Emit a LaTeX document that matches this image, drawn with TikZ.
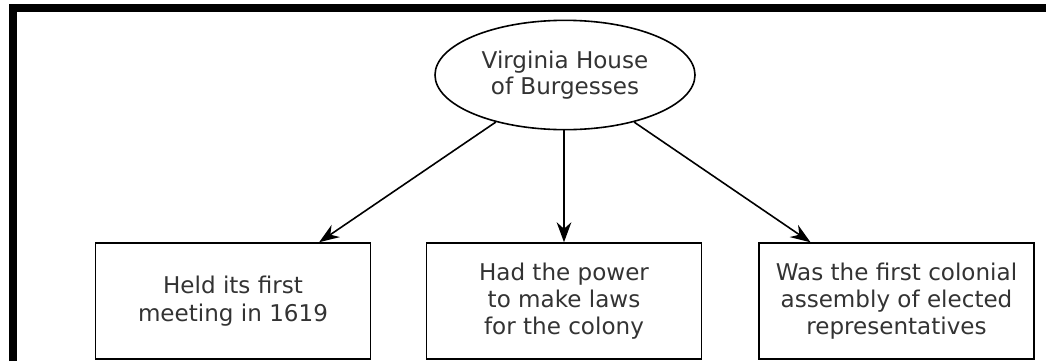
\documentclass[tikz,border=0pt]{standalone}
\usepackage{fontspec}
\setmainfont{DejaVu Sans}
\usetikzlibrary{positioning,shapes.geometric,arrows.meta}

\begin{document}
\begin{tikzpicture}[x=0.75pt, y=-0.75pt,
        topic/.style={ellipse, draw, line width=1.2pt, minimum width=195pt, minimum height=82pt, inner sep=0pt, align=center, text=black!80, font=\fontsize{17.3}{19.5}\selectfont},
        fact/.style={rectangle, draw, line width=1.1pt, minimum width=206pt, minimum height=87pt, align=center, text=black!80, font=\fontsize{17.3}{20.5}\selectfont},
        arrow/.style={-{Stealth[length=15pt, width=11pt]}, line width=1.2pt}
    ]
        \useasboundingbox (0,0) rectangle (1046,361);
        % frame on left and top
        \draw[line width=6pt] (13,361) -- (13,8) -- (1046,8);

        \node[topic] (burg) at (565,75) {Virginia House\\of Burgesses};

        \node[fact] (held) at (233,301) {Held its first\\meeting in 1619};
        \node[fact] (power) at (564,301) {Had the power\\to make laws\\for the colony};
        \node[fact] (assembly) at (896.5,301) {Was the first colonial\\assembly of elected\\representatives};

        \draw[arrow] (burg) -- (held);
        \draw[arrow] (burg.south -| power.north) -- (power);
        \draw[arrow] (burg) -- (assembly);
    \end{tikzpicture}
\end{document}
